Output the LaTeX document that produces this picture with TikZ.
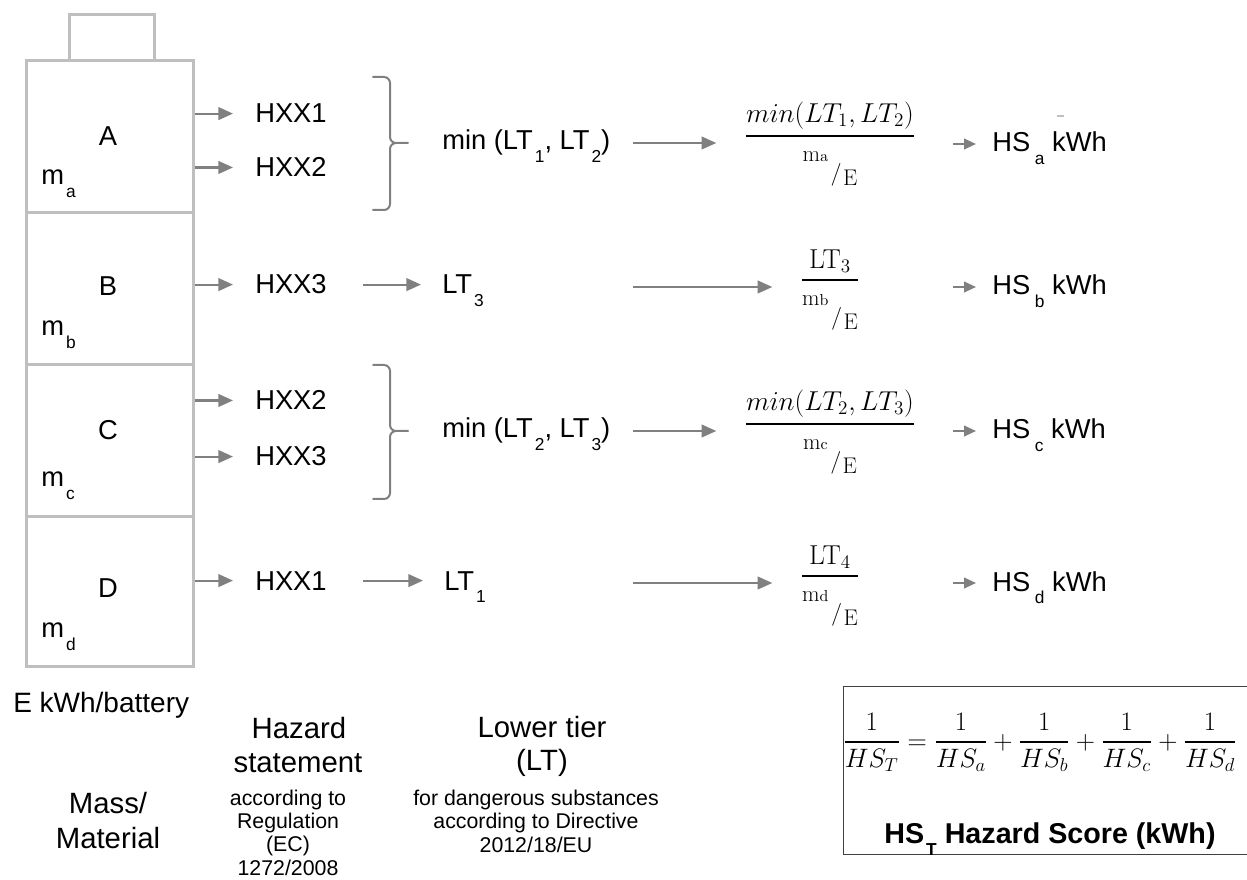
\RequirePackage{fix-cm}
\documentclass[tikz,border=0pt]{standalone}
\usepackage{amsmath}
\usepackage[no-math]{fontspec}
\setmainfont{Liberation Sans}
\usetikzlibrary{arrows.meta}
\definecolor{arrgray}{RGB}{128,128,128}
\definecolor{boxgray}{RGB}{191,191,191}
\definecolor{framegray}{RGB}{64,64,64}
\newcommand\lsub[1]{\hspace{1.5pt}\raisebox{-0.45em}{\fontsize{13}{13}\selectfont #1}}
\newcommand\dnm[1]{\mbox{\fontsize{17}{20}\selectfont$\mathrm{m}{\scriptstyle\mathrm{#1}}$\hspace{2pt}\raisebox{-14.25pt}{$/$}\hspace{1pt}\raisebox{-18pt}{$\mathrm{E}$}}}
\newcommand\hfr[2]{\genfrac{}{}{1.4pt}{0}{#1}{#2}}
\begin{document}
\begin{tikzpicture}[x=0.75pt,y=-0.75pt,
  lbl/.style={inner sep=0pt, anchor=base west, font=\fontsize{20.5}{24}\selectfont},
  clbl/.style={inner sep=0pt, anchor=base, font=\fontsize{20.5}{24}\selectfont},
  biglbl/.style={inner sep=0pt, anchor=base, font=\fontsize{22}{26}\selectfont},
  smlbl/.style={inner sep=0pt, anchor=base, font=\fontsize{16}{19}\selectfont},
  fracn/.style={inner sep=0pt, anchor=base, font=\fontsize{20.5}{24}\selectfont},
  cellbox/.style={draw=boxgray, line width=2pt, inner sep=0pt, anchor=north west, minimum width=125.25pt},
  arr/.style={draw=arrgray, line width=1.6pt, -{Triangle[length=11pt,width=9.5pt]}},
  arrs/.style={draw=arrgray, line width=1.6pt, -{Triangle[length=9pt,width=8pt]}},
  brace/.style={draw=arrgray, line width=1.5pt, line cap=round},
]
\useasboundingbox (0,0) rectangle (1247,880);

% battery
\node (term) [cellbox, minimum width=63.75pt, minimum height=34.5pt] at (68,13) {};
\node (cellA) [cellbox, minimum height=114pt] at (25,59) {};
\node (cellB) [cellbox, minimum height=114pt] at (25,211) {};
\node (cellC) [cellbox, minimum height=114pt] at (25,363) {};
\node (cellD) [cellbox, minimum height=112.5pt] at (25,515) {};

\node (lA) [clbl] at (108,146) {A};
\node (lB) [clbl] at (108,296) {B};
\node (lC) [clbl] at (108,440) {C};
\node (lD) [clbl] at (108,598) {D};
\node (mA) [lbl] at (41,185) {m\lsub{a}};
\node (mB) [lbl] at (41,336) {m\lsub{b}};
\node (mC) [lbl] at (41,487) {m\lsub{c}};
\node (mD) [lbl] at (41,638) {m\lsub{d}};

% hazard statements
\node (hA1) [lbl] at (255,123) {HXX1};
\node (hA2) [lbl] at (255,177) {HXX2};
\node (hB)  [lbl] at (255,294) {HXX3};
\node (hC1) [lbl] at (255,410) {HXX2};
\node (hC2) [lbl] at (255,466) {HXX3};
\node (hD)  [lbl] at (255,590) {HXX1};

\foreach \c/\h in {cellA/hA1, cellA/hA2, cellB/hB, cellC/hC1, cellC/hC2, cellD/hD}
  \draw[arr, shorten >=16.5pt] (\c.east |- \h.west) -- (\h.west);

% braces
\draw[brace] (373,77) -- (384,77) to[out=0,in=90] (390,83) -- (390,137) to[out=-90,in=180] (396,143) -- (408,143)
  (396,143) to[out=180,in=90] (390,149) -- (390,204) to[out=-90,in=0] (384,210) -- (373,210);
\draw[brace] (373,365) -- (384,365) to[out=0,in=90] (390,371) -- (390,425) to[out=-90,in=180] (396,431) -- (408,431)
  (396,431) to[out=180,in=90] (390,437) -- (390,493) to[out=-90,in=0] (384,499) -- (373,499);

% lower tiers
\node (tA) [lbl] at (442,150) {min (LT\lsub{1}, LT\lsub{2})};
\node (tB) [lbl] at (442,294) {LT\lsub{3}};
\node (tC) [lbl] at (442,438) {min (LT\lsub{2}, LT\lsub{3})};
\node (tD) [lbl] at (444,590) {LT\lsub{1}};
\draw[arr, shorten <=27pt, shorten >=15.75pt] (hB.east) -- (tB.west |- hB.east);
\draw[arr, shorten <=27pt, shorten >=15.75pt] (hD.east) -- (tD.west |- hD.east);

% fractions
\node (fA) [fracn] at (830,143) {$\displaystyle\hfr{min(LT_1,LT_2)}{\dnm{a}}$};
\node (fB) [fracn] at (830,287) {$\displaystyle\hfr{\mathrm{LT}_3}{\dnm{b}}$};
\node (fC) [fracn] at (830,431) {$\displaystyle\hfr{min(LT_2,LT_3)}{\dnm{c}}$};
\node (fD) [fracn] at (830,583) {$\displaystyle\hfr{\mathrm{LT}_4}{\dnm{d}}$};

\coordinate (sA) at (633,143);
\coordinate (sB) at (633,287);
\coordinate (sC) at (633,431);
\coordinate (sD) at (633,583);
\foreach \s/\f in {sA/fA, sB/fB, sC/fC, sD/fD}
  \draw[arr] (\s) -- ([xshift=-21pt]\s -| \f.west);

% hazard scores
\node (sa) [lbl] at (992,152) {HS\hspace{2pt}\lsub{a} kWh};
\node (sb) [lbl] at (992,295) {HS\hspace{2pt}\lsub{b} kWh};
\node (sc) [lbl] at (992,439) {HS\hspace{2pt}\lsub{c} kWh};
\node (sd) [lbl] at (992,591) {HS\hspace{2pt}\lsub{d} kWh};
\coordinate (pA) at (953,144);
\coordinate (pB) at (953,287);
\coordinate (pC) at (953,431);
\coordinate (pD) at (953,583);
\foreach \p/\s in {pA/sa, pB/sb, pC/sc, pD/sd}
  \draw[arrs] (\p) -- ([xshift=-12pt]\p -| \s.west);
\draw[boxgray, line width=0.8pt] (1057,116) -- (1064,116);

% bottom labels
\node (ekwh) [inner sep=0pt, anchor=base west, font=\fontsize{21}{25}\selectfont] at (13,712) {E kWh/battery};
\node (haz1) [biglbl] at (299,738) {Hazard};
\node (haz2) [biglbl] at (298,772) {statement};
\node (low1) [biglbl] at (542,737) {Lower tier};
\node (low2) [biglbl] at (542,770) {(LT)};
\node (mas1) [biglbl] at (108,813) {Mass/};
\node (mas2) [biglbl] at (108,848) {Material};
\node (reg1) [smlbl] at (288,805) {according to};
\node (reg2) [smlbl] at (288,828) {Regulation};
\node (reg3) [smlbl] at (288,851) {(EC)};
\node (reg4) [smlbl] at (288,875) {1272/2008};
\node (dir1) [smlbl] at (536,805) {for dangerous substances};
\node (dir2) [smlbl] at (536,828) {according to Directive};
\node (dir3) [smlbl] at (536,852) {2012/18/EU};

% total
\node (tot) [draw=framegray, line width=1pt, inner sep=0pt, anchor=north west, minimum width=307.5pt, minimum height=126pt] at (843,686) {};
\node (form) [inner sep=0pt, anchor=base, font=\fontsize{20}{24}\selectfont] at (1040,749)
  {$\displaystyle\hfr{1}{HS_T}=\hfr{1}{HS_a}+\hfr{1}{HS_b}+\hfr{1}{HS_c}+\hfr{1}{HS_d}$};
\node (hst) [inner sep=0pt, anchor=base, font=\fontsize{21.5}{25}\selectfont\bfseries] at (1050,843)
  {HS\lsub{T} Hazard Score (kWh)};
\end{tikzpicture}
\end{document}
